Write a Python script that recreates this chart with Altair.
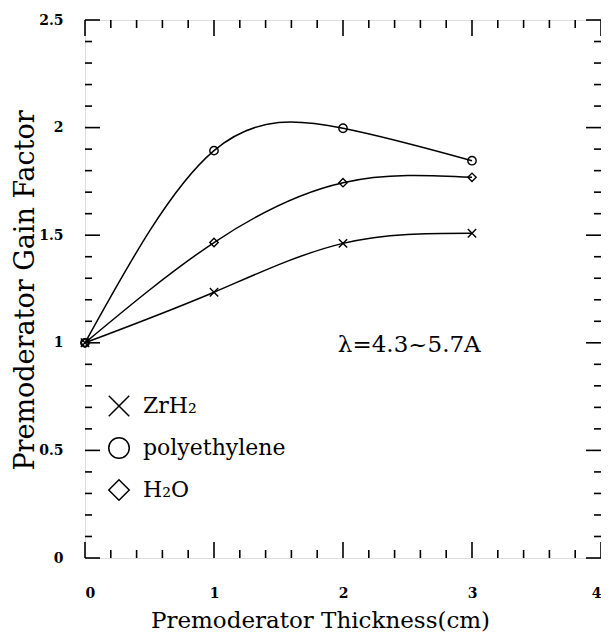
import altair as alt
import pandas as pd

# ---- data ----
thickness = [0, 1, 2, 3]
zrh2 = [1.0, 1.235, 1.462, 1.509]
polyethylene = [1.0, 1.893, 1.997, 1.846]
h2o = [1.0, 1.466, 1.744, 1.769]
series_names = ["ZrH\u2082", "polyethylene", "H\u2082O"]

x_major = [0, 1, 2, 3, 4]
x_minor = [i / 5 for i in range(21) if i % 5 != 0]
y_major = [0, 0.5, 1, 1.5, 2, 2.5]
y_minor = [i / 10 for i in range(26) if i % 5 != 0]

annotation_text = ["\u03bb=4.3~5.7A"]
annotation_x = [1.96]
annotation_y = [0.957]

# ---- layout ----
W, H = 516, 538
FONT = "DejaVu Serif"

rows = []
for name, vals in zip(series_names, [zrh2, polyethylene, h2o]):
    for t, v in zip(thickness, vals):
        rows.append({"series": name, "t": t, "g": v})
df = pd.DataFrame(rows)

xs = alt.Scale(domain=[0, 4], nice=False, zero=False)
ys = alt.Scale(domain=[0, 2.5], nice=False, zero=False)

x_axis = alt.Axis(
    values=x_major, format="d", ticks=False, domain=False, grid=False,
    labelPadding=28, labelFont=FONT, labelFontWeight="bold", labelFontSize=14,
    labelColor="black",
    title="Premoderator Thickness(cm)", titleFont=FONT, titleFontSize=23,
    titleFontWeight="normal", titleColor="black",
    titleX=235, titleY=69, titleAnchor="middle", titleAlign="center",
    titleBaseline="alphabetic",
)
y_axis = alt.Axis(
    values=y_major, format="~g", ticks=False, domain=False, grid=False,
    labelPadding=22, labelFont=FONT, labelFontWeight="bold", labelFontSize=14,
    labelColor="black",
    title="Premoderator Gain Factor", titleFont=FONT, titleFontSize=27,
    titleFontWeight="normal", titleColor="black",
    titleX=-52, titleY=270, titleAngle=-90, titleAlign="center",
    titleBaseline="alphabetic",
)

X = alt.X("t:Q", scale=xs, axis=x_axis)
Y = alt.Y("g:Q", scale=ys, axis=y_axis)

lines = alt.Chart(df).mark_line(
    interpolate="natural", color="black", strokeWidth=1.5
).encode(x=X, y=Y, detail="series:N")

cross_path = "M-1,-1L1,1M-1,1L1,-1"
points = alt.Chart(df).mark_point(
    filled=False, color="black", strokeWidth=1.4, size=70, opacity=1
).encode(
    x=alt.X("t:Q", scale=xs),
    y=alt.Y("g:Q", scale=ys),
    shape=alt.Shape(
        "series:N",
        scale=alt.Scale(domain=series_names, range=[cross_path, "circle", "diamond"]),
        legend=alt.Legend(
            orient="none", legendX=23, legendY=375, direction="vertical",
            title=None, padding=0, rowPadding=14, labelOffset=13,
            labelFont=FONT, labelFontSize=22, labelColor="black",
            symbolSize=420, symbolStrokeColor="black", symbolStrokeWidth=1.5,
            symbolFillColor="transparent", symbolOpacity=1, labelLimit=300,
        ),
    ),
)

def tick_layer(values, orient, length):
    d = pd.DataFrame({"v": values})
    base = alt.Chart(d).mark_rule(color="black", strokeWidth=1.6)
    if orient == "bottom":
        return base.encode(x=alt.X("v:Q", scale=xs), y=alt.value(H), y2=alt.value(H - length))
    if orient == "top":
        return base.encode(x=alt.X("v:Q", scale=xs), y=alt.value(0), y2=alt.value(length))
    if orient == "left":
        return base.encode(y=alt.Y("v:Q", scale=ys), x=alt.value(0), x2=alt.value(length))
    return base.encode(y=alt.Y("v:Q", scale=ys), x=alt.value(W), x2=alt.value(W - length))

ticks = [
    tick_layer(x_major, "bottom", 16), tick_layer(x_minor, "bottom", 8),
    tick_layer(x_major, "top", 16), tick_layer(x_minor, "top", 8),
    tick_layer(y_major, "left", 15), tick_layer(y_minor, "left", 7),
    tick_layer(y_major, "right", 15), tick_layer(y_minor, "right", 7),
]

ann = alt.Chart(pd.DataFrame({"x": annotation_x, "y": annotation_y, "txt": annotation_text})).mark_text(
    align="left", baseline="alphabetic", font=FONT, fontSize=23, color="black"
).encode(x=alt.X("x:Q", scale=xs), y=alt.Y("y:Q", scale=ys), text="txt:N")

chart = alt.layer(lines, points, *ticks, ann).properties(
    width=W, height=H,
    autosize=alt.AutoSizeParams(type="none"),
    padding={"left": 77, "top": 12, "right": 0, "bottom": 74},
).configure_view(
    stroke="black", strokeWidth=2
).configure(background="white")

chart.save("out.html", embed_options={"renderer": "svg", "actions": False})
